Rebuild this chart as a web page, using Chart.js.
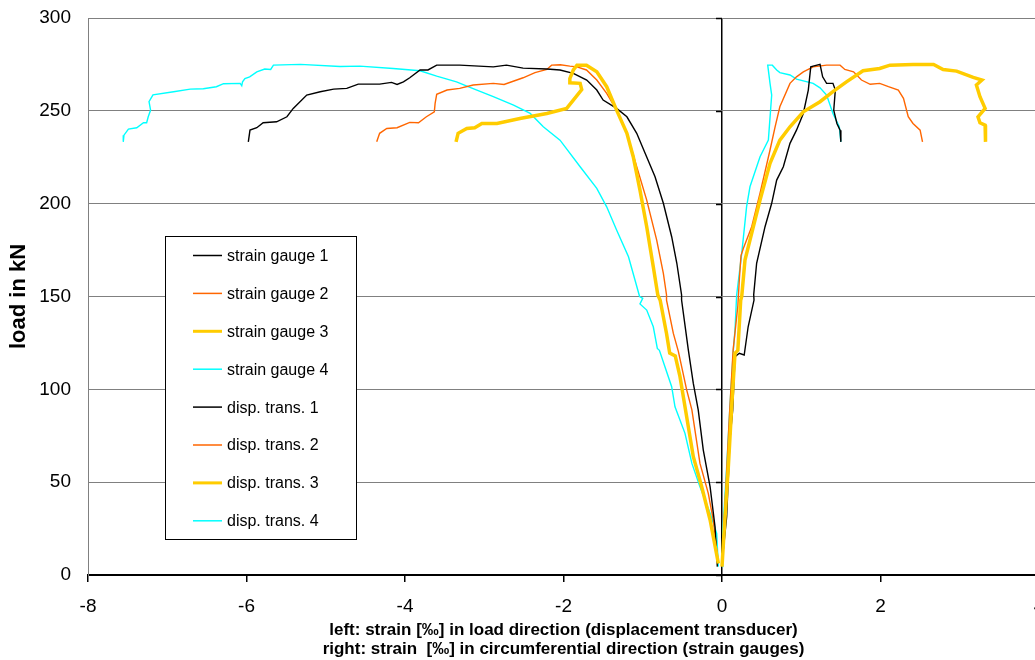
<!DOCTYPE html>
<html>
<head>
<meta charset="utf-8">
<script src="https://cdn.jsdelivr.net/npm/chart.js@4"></script>
<style>
  html, body { margin: 0; padding: 0; background: #fff; overflow: hidden; }
  #wrap { position: absolute; left: 0; top: 0; width: 1050px; height: 660px; }
</style>
</head>
<body>
<div id="wrap"><canvas id="chart" width="1050" height="660"></canvas></div>
<script>
// right side: strain gauges, circumferential strain [‰] vs load [kN]
const sg1Strain = [0.0, 0.059, 0.10, 0.135, 0.164, 0.219, 0.28, 0.33, 0.404, 0.40, 0.437, 0.543, 0.627, 0.69, 0.774, 0.858, 0.94, 1.026, 1.089, 1.12, 1.15, 1.237, 1.27, 1.32, 1.40, 1.43, 1.41, 1.45, 1.49, 1.50];
const sg1Load   = [6.3, 31.4, 72.7, 88.9, 117.6, 119.4, 118.5, 133.7, 148.1, 151, 167.9, 187.6, 200.2, 212.7, 219.9, 232.5, 239.6, 248.6, 261.2, 273.7, 274.1, 275, 268.3, 264.8, 264.8, 261.2, 250.4, 243.2, 239.6, 233.3];

const sg2Strain = [0.0, 0.04, 0.09, 0.14, 0.20, 0.22, 0.24, 0.27, 0.375, 0.48, 0.606, 0.67, 0.73, 0.858, 0.94, 1.026, 1.15, 1.32, 1.49, 1.55, 1.66, 1.76, 1.87, 1.99, 2.10, 2.225, 2.29, 2.35, 2.41, 2.50, 2.53];
const sg2Load   = [4.5, 40, 83, 121, 145, 160, 172, 176, 187.6, 205.6, 228.9, 241.4, 252.2, 264.8, 268.3, 271, 273.7, 274.6, 274.6, 272.3, 271, 266.6, 264.3, 264.8, 263, 261.2, 256.7, 246.8, 243.2, 239.6, 233.3];

const sg3Strain = [0.0, 0.025, 0.08, 0.12, 0.164, 0.20, 0.236, 0.249, 0.29, 0.353, 0.48, 0.606, 0.73, 0.858, 1.026, 1.237, 1.40, 1.57, 1.78, 1.99, 2.12, 2.41, 2.67, 2.79, 2.96, 3.17, 3.28, 3.21, 3.255, 3.32, 3.23, 3.255, 3.32, 3.33, 3.32];
const sg3Load   = [4.5, 22.4, 58.3, 88.9, 119.4, 121, 148, 150, 169.6, 180.4, 201.9, 221.7, 234.2, 241.4, 249.5, 254.9, 260.3, 265.6, 271.6, 272.8, 274.6, 275, 275, 272.3, 271.4, 268, 266.6, 263.9, 257.6, 251.3, 246.8, 243.6, 242.3, 237.9, 233.3];

const sg4Strain = [0.0, 0.009, 0.059, 0.10, 0.143, 0.164, 0.185, 0.249, 0.31, 0.353, 0.48, 0.585, 0.627, 0.606, 0.577, 0.635, 0.69, 0.73, 0.858, 0.94, 1.15, 1.237, 1.32, 1.40, 1.48, 1.50];
const sg4Load   = [4.5, 22.4, 58.3, 90.6, 121.2, 131.9, 150.8, 173.2, 198.3, 209.1, 225.3, 234.2, 258.5, 264.8, 274.6, 274.6, 272, 270.6, 269.3, 267.1, 264.8, 262.4, 258.5, 248.6, 241.4, 233.3];

// left side: displacement transducers, strain in load direction [‰]
const dt1Strain = [-0.059, -0.088, -0.15, -0.236, -0.30, -0.362, -0.425, -0.51, -0.51, -0.57, -0.635, -0.74, -0.845, -0.97, -1.076, -1.20, -1.33, -1.50, -1.58, -1.707, -1.876, -2.044, -2.21, -2.51, -2.72, -2.886, -3.31, -3.60, -3.71, -3.81, -3.94, -4.02, -4.10, -4.17, -4.32, -4.59, -4.735, -4.90, -5.07, -5.24, -5.41, -5.49, -5.62, -5.79, -5.87, -5.956, -5.977];
const dt1Load   = [4.5, 26, 47.5, 67.3, 88.9, 103.2, 121.2, 148.1, 150.8, 167.9, 182.2, 200.2, 214.5, 227.1, 237.9, 246.8, 251.3, 255.8, 261.2, 266.6, 270.2, 272, 272.5, 273, 274.6, 273.7, 274.6, 274.6, 272, 272, 267.8, 265.6, 264.2, 265.3, 264.4, 264.4, 262.1, 261.7, 260.3, 258.5, 251.3, 246.8, 244.1, 243.6, 240.9, 239.6, 233.3];

const dt2Strain = [-0.046, -0.11, -0.173, -0.278, -0.38, -0.445, -0.55, -0.614, -0.70, -0.70, -0.74, -0.824, -0.95, -1.076, -1.20, -1.33, -1.455, -1.58, -1.71, -1.83, -1.92, -2.04, -2.15, -2.21, -2.36, -2.51, -2.59, -2.75, -2.886, -3.14, -3.31, -3.47, -3.60, -3.62, -3.63, -3.73, -3.83, -3.94, -4.10, -4.23, -4.32, -4.357];
const dt2Load   = [6.3, 29.6, 44, 60.1, 88.9, 99.6, 120.3, 130.1, 148, 150.8, 162.5, 180.4, 201.9, 219.9, 237.9, 250.4, 259.4, 266.6, 272, 273.7, 274.1, 274.8, 274.6, 272.3, 270.6, 267.8, 266.6, 264.2, 264.8, 263.9, 262.1, 261.2, 258.9, 254, 249.5, 246.8, 243.6, 243.8, 240.9, 240.5, 237.9, 233.3];

const dt3Strain = [-0.046, -0.15, -0.256, -0.362, -0.467, -0.53, -0.59, -0.66, -0.70, -0.78, -0.81, -0.867, -0.95, -1.035, -1.12, -1.20, -1.33, -1.455, -1.58, -1.71, -1.83, -1.876, -1.92, -1.92, -1.79, -1.77, -1.876, -1.96, -2.21, -2.55, -2.84, -3.03, -3.12, -3.22, -3.33, -3.356];
const dt3Load   = [6.3, 29.6, 47.5, 63.7, 90.6, 106.8, 118, 119.5, 130.1, 148, 150.8, 166, 187.6, 207.3, 225.3, 237.9, 250.4, 263, 271, 274.6, 274.6, 272, 267.4, 265.1, 264.8, 261.5, 255.8, 251.3, 248.6, 245.9, 243.2, 243.2, 240.9, 240.5, 237.9, 233.3];

const dt4Strain = [-0.046, -0.067, -0.15, -0.278, -0.38, -0.467, -0.593, -0.635, -0.72, -0.79, -0.816, -0.867, -0.95, -1.035, -1.00, -1.04, -1.098, -1.18, -1.33, -1.455, -1.58, -1.79, -2.044, -2.255, -2.42, -2.63, -2.886, -3.18, -3.35, -3.60, -3.81, -4.15, -4.57, -4.82, -5.32, -5.66, -5.695, -5.77, -5.87, -5.96, -6.02, -6.05, -6.06, -6.08, -6.29, -6.38, -6.545, -6.71, -6.92, -7.18, -7.23, -7.21, -7.24, -7.26, -7.30, -7.385, -7.49, -7.546, -7.555];
const dt4Load   = [4.5, 22.4, 33.2, 47.5, 60.1, 76.3, 90.6, 101.4, 112.2, 121, 122, 133.7, 142.7, 146, 149, 150, 158.9, 171.4, 185.8, 198.3, 208.2, 219.9, 234.2, 241.4, 248.6, 253.1, 257.6, 262.6, 265.6, 268.7, 271.6, 272.8, 274.1, 273.9, 275, 274.6, 272.3, 272.5, 271, 268.3, 267.4, 265.6, 263.5, 264.8, 264.6, 263, 261.9, 261.7, 260.3, 258.6, 254.9, 250.4, 246.8, 243.6, 243.6, 240.9, 240.2, 236.9, 233.3];

const seriesNames = ['strain gauge 1', 'strain gauge 2', 'strain gauge 3', 'strain gauge 4',
                     'disp. trans. 1', 'disp. trans. 2', 'disp. trans. 3', 'disp. trans. 4'];
const xTitle = ['left: strain [‰] in load direction (displacement transducer)',
                'right: strain  [‰] in circumferential direction (strain gauges)'];
const yTitle = 'load in kN';

const BLACK = '#000000', ORANGE = '#FF6600', GOLD = '#FFCC00', CYAN = '#00FFFF';
const FONT = '"Liberation Sans", Arial, sans-serif';

const toPoints = (xs, ys) => xs.map((x, i) => ({ x: x, y: ys[i] }));

const series = [
  [sg1Strain, sg1Load, BLACK, 1.4],
  [sg2Strain, sg2Load, ORANGE, 1.4],
  [sg3Strain, sg3Load, GOLD, 3.5],
  [sg4Strain, sg4Load, CYAN, 1.4],
  [dt1Strain, dt1Load, BLACK, 1.4],
  [dt2Strain, dt2Load, ORANGE, 1.4],
  [dt3Strain, dt3Load, GOLD, 3.5],
  [dt4Strain, dt4Load, CYAN, 1.4]
];

const datasets = series.map((s, i) => ({
  label: seriesNames[i],
  data: toPoints(s[0], s[1]),
  borderColor: s[2],
  backgroundColor: s[2],
  borderWidth: s[3],
  pointRadius: 0,
  tension: 0,
  fill: false,
  order: s[3] > 2 ? 0 : 1
}));

// black vertical axis at x = 0 with small tick marks on its left
const zeroAxisTicks = {
  id: 'zeroAxisTicks',
  beforeDatasetsDraw(chart) {
    const { ctx, scales: { x, y } } = chart;
    const x0 = Math.round(x.getPixelForValue(0));
    ctx.save();
    ctx.strokeStyle = '#000';
    ctx.lineWidth = 1.5;
    for (let v = 0; v <= 300; v += 50) {
      const py = Math.round(y.getPixelForValue(v)) + 0.5;
      ctx.beginPath();
      ctx.moveTo(x0 - 6, py);
      ctx.lineTo(x0, py);
      ctx.stroke();
    }
    ctx.restore();
  }
};

// boxed legend inside the plot
const boxLegend = {
  id: 'boxLegend',
  afterDraw(chart) {
    const ctx = chart.ctx;
    const left = 165.5, top = 236.5, w = 191, h = 303;
    ctx.save();
    ctx.fillStyle = '#fff';
    ctx.fillRect(left, top, w, h);
    ctx.strokeStyle = '#000';
    ctx.lineWidth = 1;
    ctx.strokeRect(left, top, w, h);
    ctx.font = '16px ' + FONT;
    ctx.textBaseline = 'middle';
    ctx.textAlign = 'left';
    chart.data.datasets.forEach((ds, i) => {
      const yy = 255.5 + i * 37.9;
      ctx.strokeStyle = ds.borderColor;
      ctx.lineWidth = ds.borderWidth > 2 ? 3 : 1.5;
      ctx.beginPath();
      ctx.moveTo(193, yy);
      ctx.lineTo(222, yy);
      ctx.stroke();
      ctx.fillStyle = '#000';
      ctx.fillText(ds.label, 227, yy + 1);
    });
    ctx.restore();
  }
};

new Chart(document.getElementById('chart'), {
  type: 'line',
  data: { datasets: datasets },
  options: {
    responsive: false,
    animation: false,
    devicePixelRatio: 1,
    layout: { padding: { left: 0, right: 11, top: 18, bottom: 0 } },
    plugins: { legend: { display: false }, tooltip: { enabled: false } },
    scales: {
      x: {
        type: 'linear',
        min: -8,
        max: 4,
        afterFit(scale) {
          scale.height = 85;
          scale.paddingLeft = 0;
          scale.paddingRight = 0;
        },
        border: { color: '#000', width: 2 },
        grid: {
          color: (c) => (c.tick && c.tick.value === 0 ? '#000' : 'rgba(0,0,0,0)'),
          lineWidth: 1.5,
          tickColor: '#000',
          tickLength: 7
        },
        ticks: {
          stepSize: 2,
          autoSkip: false,
          maxRotation: 0,
          padding: 13,
          color: '#000',
          font: { family: FONT, size: 19 }
        },
        title: {
          display: true,
          text: xTitle,
          color: '#000',
          font: { family: FONT, size: 17, weight: 'bold', lineHeight: 1.08 },
          padding: { top: 0, bottom: 2 }
        }
      },
      y: {
        min: 0,
        max: 300,
        afterFit(scale) {
          scale.width = 88;
          scale.paddingTop = 0;
          scale.paddingBottom = 0;
        },
        border: { color: '#808080', width: 1 },
        grid: {
          color: (c) => (c.tick && c.tick.value === 0 ? 'rgba(0,0,0,0)' : '#808080'),
          lineWidth: 1,
          drawTicks: false
        },
        ticks: {
          stepSize: 50,
          padding: 17,
          color: '#000',
          font: { family: FONT, size: 19 }
        },
        title: {
          display: true,
          text: yTitle,
          color: '#000',
          font: { family: FONT, size: 22, weight: 'bold', lineHeight: 1.2 },
          padding: { top: 6, bottom: 0 }
        }
      }
    }
  },
  plugins: [zeroAxisTicks, boxLegend]
});
</script>
</body>
</html>
